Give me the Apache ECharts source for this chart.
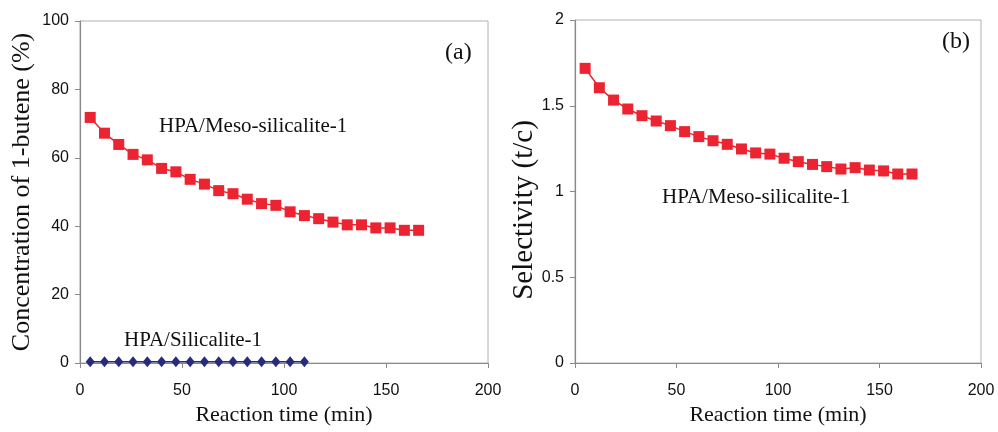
<!DOCTYPE html>
<html>
<head>
<meta charset="utf-8">
<script src="https://cdn.jsdelivr.net/npm/echarts@6/dist/echarts.min.js"></script>
<style>html,body{margin:0;padding:0;background:#fff}#c{width:998px;height:432px}</style>
</head>
<body>
<div id="c"></div>
<script>
// ---- data ----
const mesoTime = [5,12,19,26,33,40,47,54,61,68,75,82,89,96,103,110,117,124,131,138,145,152,159,166];
const mesoConc = [71.8,67.2,63.9,61.0,59.4,56.9,55.9,53.7,52.3,50.4,49.5,47.9,46.6,46.1,44.2,43.1,42.2,41.2,40.4,40.4,39.5,39.5,38.8,38.8];
const silTime = [5,12,19,26,33,40,47,54,61,68,75,82,89,96,103,110];
const silConc = [0.4,0.4,0.4,0.4,0.4,0.4,0.4,0.4,0.4,0.4,0.4,0.4,0.4,0.4,0.4,0.4];
const mesoSel = [1.718,1.605,1.533,1.481,1.442,1.411,1.384,1.349,1.320,1.296,1.275,1.248,1.225,1.218,1.194,1.174,1.158,1.145,1.131,1.139,1.125,1.120,1.102,1.102];
const xTicks = [0,50,100,150,200];
const concTicks = [0,20,40,60,80,100];
const selTicks = [0,0.5,1,1.5,2];

const pair = (xs, ys) => xs.map((x,i)=>[x, ys[i]]);
const RED = '#EC2330', BLUE = '#272B7D', AXIS = '#8a8a8a';
const serif = 'Liberation Serif', sans = 'Liberation Sans';

function xAxis(idx){
  return {
    gridIndex: idx, type:'value', min:0, max:200, interval:50,
    name:'Reaction time (min)', nameLocation:'middle', nameGap:33,
    nameTextStyle:{fontFamily:serif, fontSize:22, color:'#111'},
    axisLine:{show:true, onZero:false, lineStyle:{color:AXIS, width:1.2}},
    axisTick:{show:true, length:5, lineStyle:{color:AXIS}},
    axisLabel:{fontFamily:sans, fontSize:16, color:'#111', margin:20, formatter: v => xTicks.includes(v) ? String(v) : ''},
    splitLine:{show:false}
  };
}
function yAxis(idx, max, interval, name, gap, ticks, fs){
  return {
    gridIndex: idx, type:'value', min:0, max:max, interval:interval,
    name:name, nameLocation:'middle', nameGap:gap,
    nameTextStyle:{fontFamily:serif, fontSize:fs, color:'#111'},
    axisLine:{show:true, lineStyle:{color:AXIS, width:1.2}},
    axisTick:{show:true, length:5, lineStyle:{color:AXIS}},
    axisLabel:{fontFamily:sans, fontSize:16, color:'#111', margin:11, formatter: v => ticks.includes(v) ? String(v) : ''},
    splitLine:{show:false}
  };
}

const chart = echarts.init(document.getElementById('c'), null, {renderer:'canvas'});
chart.setOption({
  backgroundColor:'#fff',
  animation:false,
  grid:[
    {left:80, top:21, width:408, height:342, show:true, borderColor:'#b0b0b0', borderWidth:1},
    {left:575, top:20, width:406, height:343, show:true, borderColor:'#b0b0b0', borderWidth:1}
  ],
  xAxis:[xAxis(0), xAxis(1)],
  yAxis:[
    yAxis(0, 100, 20, 'Concentration of 1-butene (%)', 45, concTicks, 26),
    yAxis(1, 2, 0.5, '', 42, selTicks, 25)
  ],
  series:[
    {type:'line', xAxisIndex:0, yAxisIndex:0, data:pair(mesoTime, mesoConc),
     symbol:'rect', symbolSize:11, itemStyle:{color:RED}, lineStyle:{color:RED, width:1.5}},
    {type:'line', xAxisIndex:0, yAxisIndex:0, data:pair(silTime, silConc),
     symbol:'diamond', symbolSize:[9,11], itemStyle:{color:BLUE}, lineStyle:{color:BLUE, width:1.5}},
    {type:'line', xAxisIndex:1, yAxisIndex:1, data:pair(mesoTime, mesoSel),
     symbol:'rect', symbolSize:11, itemStyle:{color:RED}, lineStyle:{color:RED, width:1.5}}
  ],
  graphic:[
    {type:'text', x:524, y:210, rotation:Math.PI/2,
     style:{text:'Selectivity (t/c)', font:'29px "Liberation Serif"', fill:'#111', align:'center', verticalAlign:'middle'}},
    {type:'text', left:159, top:116, style:{text:'HPA/Meso-silicalite-1', font:'21px "Liberation Serif"', fill:'#111'}},
    {type:'text', left:124, top:330, style:{text:'HPA/Silicalite-1', font:'21px "Liberation Serif"', fill:'#111'}},
    {type:'text', left:445, top:41, style:{text:'(a)', font:'24px "Liberation Serif"', fill:'#111'}},
    {type:'text', left:662, top:187, style:{text:'HPA/Meso-silicalite-1', font:'21px "Liberation Serif"', fill:'#111'}},
    {type:'text', left:942, top:30, style:{text:'(b)', font:'24px "Liberation Serif"', fill:'#111'}}
  ]
});
</script>
</body>
</html>
